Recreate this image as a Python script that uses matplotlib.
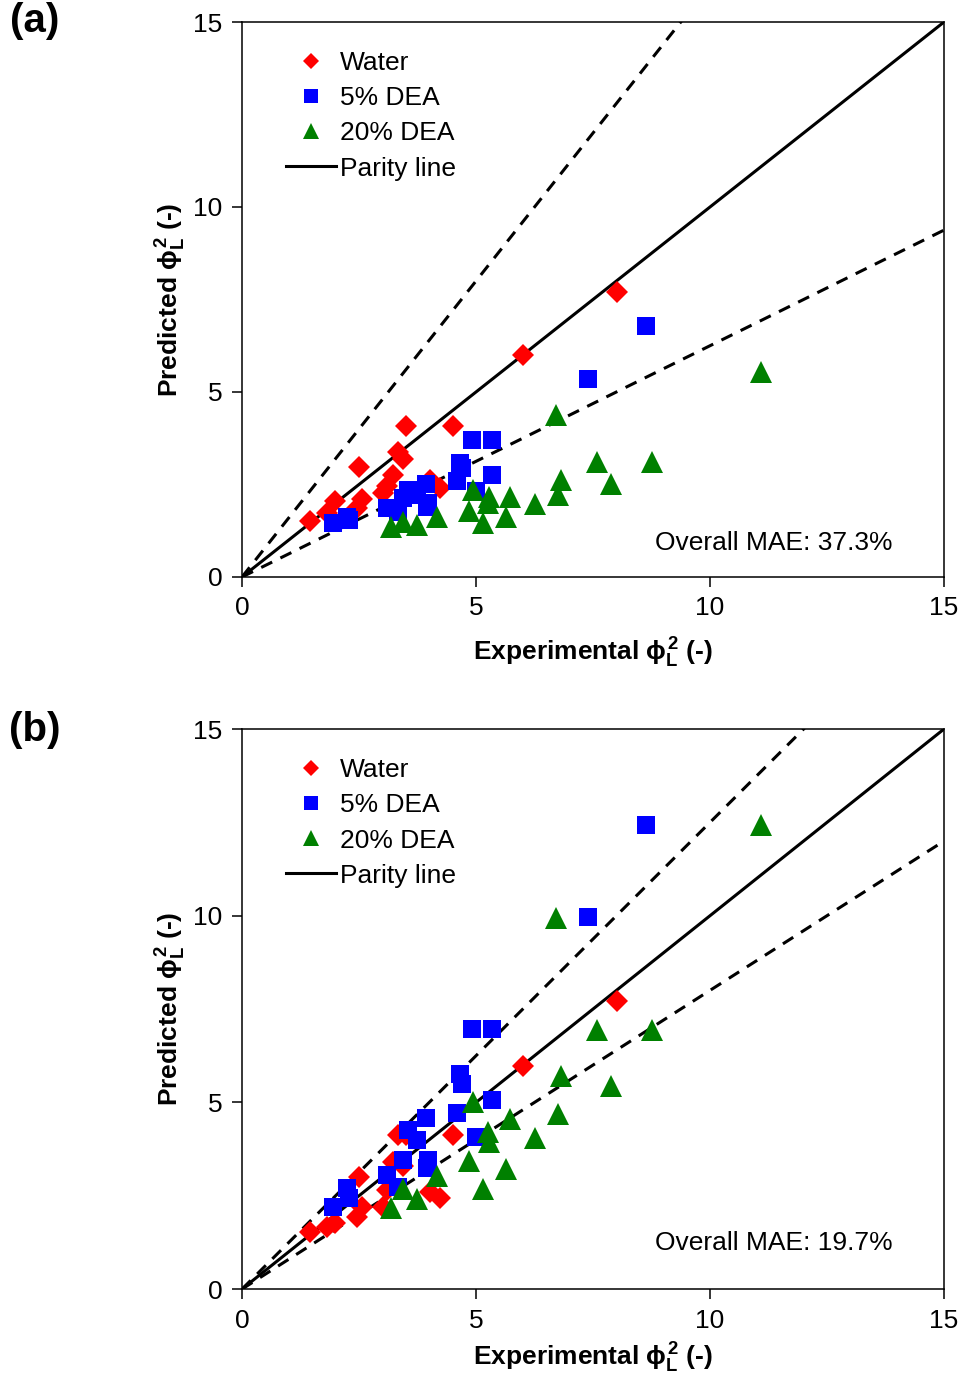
# Parity plots: predicted vs experimental phi_L^2
import numpy as np
import matplotlib
matplotlib.use('Agg')
import matplotlib.pyplot as plt

plt.rcParams['font.family'] = ['Liberation Sans', 'DejaVu Sans']
plt.rcParams['mathtext.fontset'] = 'custom'
plt.rcParams['mathtext.rm'] = 'Liberation Sans:bold'
plt.rcParams['mathtext.it'] = 'Liberation Sans:bold'
plt.rcParams['mathtext.bf'] = 'Liberation Sans:bold'

# Water
water_x = [1.45, 1.81, 1.99, 2.45, 2.50, 2.56, 3.02, 3.09, 3.23, 3.34, 3.45, 3.50, 4.02, 4.23, 4.51, 6.00, 8.01]
water_a = [1.50, 1.72, 2.04, 1.87, 2.98, 2.10, 2.26, 2.47, 2.76, 3.39, 3.18, 4.08, 2.62, 2.41, 4.09, 6.00, 7.69]
water_b = [1.53, 1.67, 1.76, 1.94, 3.00, 2.20, 2.20, 2.65, 3.41, 4.12, 3.30, 4.12, 2.61, 2.43, 4.12, 5.98, 7.71]

# 5% DEA
dea5_x = [1.94, 2.24, 2.29, 3.09, 3.33, 3.45, 3.55, 3.73, 3.93, 3.95, 3.97, 4.59, 4.66, 4.69, 4.92, 5.01, 5.35, 5.35, 7.39, 8.63]
dea5_a = [1.45, 1.63, 1.54, 1.86, 1.75, 2.13, 2.35, 2.22, 2.51, 1.90, 2.00, 2.58, 3.07, 2.94, 3.70, 2.31, 3.70, 2.76, 5.35, 6.78]
dea5_b = [2.20, 2.70, 2.43, 3.05, 2.74, 3.46, 4.26, 3.99, 4.57, 3.23, 3.46, 4.71, 5.76, 5.49, 6.96, 4.08, 6.96, 5.06, 9.96, 12.43]

# 20% DEA
dea20_x = [3.18, 3.43, 3.73, 4.17, 4.84, 4.94, 5.14, 5.25, 5.27, 5.64, 5.73, 6.25, 6.71, 6.76, 6.81, 7.59, 7.88, 8.75, 11.09]
dea20_a = [1.36, 1.49, 1.41, 1.63, 1.77, 2.35, 1.45, 2.01, 2.15, 1.63, 2.17, 1.97, 4.38, 2.22, 2.62, 3.12, 2.51, 3.12, 5.54]
dea20_b = [2.16, 2.68, 2.40, 3.03, 3.44, 5.02, 2.68, 4.21, 3.95, 3.21, 4.55, 4.04, 9.94, 4.69, 5.71, 6.94, 5.44, 6.94, 12.43]

panels = ['(a)', '(b)']
mae = ['Overall MAE: 37.3%', 'Overall MAE: 19.7%']
bands = [1.6, 1.25]  # slope of upper dashed line, lower one is 1/slope
ticks = [0, 5, 10, 15]

fig = plt.figure(figsize=(9.62, 13.75), dpi=100)
ax_a = fig.add_axes([0.2516, 0.5804, 0.7297, 0.4036])
ax_b = fig.add_axes([0.2516, 0.0625, 0.7297, 0.4073])

for i, (ax, wy, by, gy) in enumerate([(ax_a, water_a, dea5_a, dea20_a),
                                      (ax_b, water_b, dea5_b, dea20_b)]):
    xx = np.array([0, 15])
    ax.plot(xx, xx, color='black', lw=2.2, zorder=1, label='Parity line')
    ax.plot(xx, xx * bands[i], color='black', lw=2.2, ls=(0, (4, 3)), zorder=1)
    ax.plot(xx, xx / bands[i], color='black', lw=2.2, ls=(0, (4, 3)), zorder=1)

    ax.plot(water_x, wy, 'D', color='#FF0000', ms=11.5, mew=0, zorder=3, label='Water')
    ax.plot(dea5_x, by, 's', color='#0000FF', ms=13.5, mew=0, zorder=4, label='5% DEA')
    ax.plot(dea20_x, gy, '^', color='#008000', ms=16, mew=0, zorder=5, label='20% DEA')

    ax.set_xlim(0, 15)
    ax.set_ylim(0, 15)
    ax.set_xticks(ticks)
    ax.set_yticks(ticks)
    ax.tick_params(direction='out', length=7, width=1.1, labelsize=19, pad=7)
    for s in ax.spines.values():
        s.set_linewidth(1.1)
    ax.set_xlabel(r'Experimental $\phi_L^2$ (-)', fontsize=19, fontweight='bold',
                  labelpad=11 if i == 0 else 6)
    ax.set_ylabel(r'Predicted $\phi_L^2$ (-)', fontsize=19, fontweight='bold', labelpad=4)

    h, l = ax.get_legend_handles_labels()
    order = [1, 2, 3, 0]
    ax.legend([h[k] for k in order], [l[k] for k in order], loc='upper left',
              bbox_to_anchor=(0.029, 0.99), frameon=False, fontsize=19,
              markerscale=0.75, handlelength=1.9, handletextpad=0.15, labelspacing=0.42)

    ax.text(0.758, 0.061 if i == 0 else 0.082, mae[i], transform=ax.transAxes,
            ha='center', va='center', fontsize=19)

fig.text(0.036, 0.985, panels[0], fontsize=29, fontweight='bold', ha='center', va='center')
fig.text(0.036, 0.469, panels[1], fontsize=29, fontweight='bold', ha='center', va='center')

plt.savefig('out.png', dpi=100)
